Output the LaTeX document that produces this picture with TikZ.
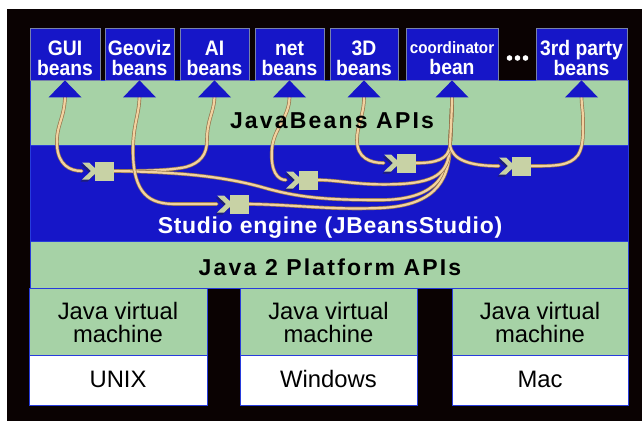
\documentclass[tikz,border=0pt]{standalone}
\usepackage{fontspec}
\setmainfont{Liberation Sans}
\newfontfamily\beanfont[FakeStretch=0.92]{Liberation Sans}
\newfontfamily\headfont[LetterSpace=9.5]{Liberation Sans}
\newfontfamily\studiofont[LetterSpace=3]{Liberation Sans}
\usetikzlibrary{calc}
\definecolor{bgblack}{RGB}{10,2,2}
\definecolor{apigreen}{RGB}{166,210,166}
\definecolor{engblue}{RGB}{22,22,200}
\definecolor{bandedge}{RGB}{40,60,220}
\definecolor{beanedge}{RGB}{120,130,170}
\definecolor{wiretan}{RGB}{242,210,160}
\definecolor{wireshade}{RGB}{150,118,78}
\definecolor{adkhaki}{RGB}{200,210,165}
\definecolor{adshade}{RGB}{30,30,120}
\begin{document}
\begin{tikzpicture}[x=1pt,y=-1pt,
  band/.style={draw=bandedge, line width=0.8pt},
  bean/.style={fill=engblue, draw=beanedge, line width=0.8pt, minimum height=52pt, inner sep=0pt},
  beantext/.style={text=white, font=\beanfont\bfseries\fontsize{21}{20}\selectfont, align=center, anchor=base, inner sep=0pt},
  coordtext/.style={text=white, font=\beanfont\bfseries\fontsize{16.5}{17}\selectfont, anchor=base, inner sep=0pt},
  headtext/.style={font=\headfont\bfseries\fontsize{23}{24}\selectfont, anchor=base, inner sep=0pt},
  studiotext/.style={text=white, font=\studiofont\bfseries\fontsize{23}{24}\selectfont, anchor=base, inner sep=0pt},
  jvmtext/.style={font=\fontsize{23.8}{23}\selectfont, align=center, anchor=base, inner sep=0pt},
  adaptor/.style={minimum width=32pt, minimum height=19pt, inner sep=0pt},
  wire/.style={draw=wiretan, line width=2.2pt, line cap=round,
    preaction={draw=wireshade, line width=3.6pt, line cap=round}},
  dot/.style={circle, fill=white, inner sep=0pt, minimum size=5.6pt}
]
\useasboundingbox (0,0) rectangle (642,421);
\fill[white] (0,0) rectangle (642,421);
\fill[bgblack] (7,9) rectangle (642,421);

% bands
\path[band, fill=apigreen] (30,80) rectangle (628,145);
\path[band, fill=engblue] (30,145) rectangle (628,241);
\path[band, fill=apigreen] (30,241) rectangle (628,288);

% JVM / OS boxes
\foreach \xa/\xb in {29/207, 240/417, 452/628} {
  \path[band, fill=apigreen] (\xa,288) rectangle (\xb,355);
  \path[band, fill=white] (\xa,355) rectangle (\xb,405);
}

% beans
\node[bean, minimum width=70pt] (b1) at (65,54) {};
\node[bean, minimum width=69pt] (b2) at (139.5,54) {};
\node[bean, minimum width=69pt] (b3) at (214.5,54) {};
\node[bean, minimum width=69pt] (b4) at (289.5,54) {};
\node[bean, minimum width=68pt] (b5) at (364,54) {};
\node[bean, minimum width=92pt] (b6) at (452,54) {};
\node[bean, minimum width=91pt] (b7) at (581.5,54) {};

\node[beantext] (l1) at (65,75) {GUI\\beans};
\node[beantext] (l2) at (139.5,75) {Geoviz\\beans};
\node[beantext] (l3) at (214.5,75) {AI\\beans};
\node[beantext] (l4) at (289.5,75) {net\\beans};
\node[beantext] (l5) at (364,75) {3D\\beans};
\node[coordtext] (l6a) at (452,53) {coordinator};
\node[beantext] (l6b) at (452,74) {bean};
\node[beantext] (l7) at (581.5,75) {3rd party\\beans};

\node[dot] (d1) at (509.5,58) {};
\node[dot] (d2) at (517.5,58) {};
\node[dot] (d3) at (525.5,58) {};

% triangle base points
\foreach \i in {1,...,7} {
  \coordinate (t\i) at ($(b\i.south)+(0,17)$);
}

% adaptors
\node[adaptor] (A1) at (98,171) {};
\node[adaptor] (A2) at (233,204) {};
\node[adaptor] (A3) at (302,180) {};
\node[adaptor] (A4) at (400,163) {};
\node[adaptor] (A5) at (515,166) {};

\coordinate (J) at (450,145);

% wires
\path[wire] (t1) .. controls (64,120) and (56,125) .. (57,145) .. controls (58,165) and (70,171) .. (A1.west);
\path[wire] (A1.east) .. controls (150,171) and (172,170) .. (186,167) .. controls (200,163) and (207,155) .. (207,140) .. controls (207,120) and (214,112) .. (t3);
\path[wire] (A1.east) .. controls (170,172) and (220,175) .. (265,188) .. controls (300,198) and (330,200) .. (380,200) .. controls (430,200) and (449,180) .. (J) .. controls (451,125) and (452,110) .. (t6);
\path[wire] (t2) .. controls (139,115) and (133,125) .. (133,150) .. controls (133,195) and (150,204) .. (175,204) -- (A2.west);
\path[wire] (A2.east) .. controls (300,205) and (330,210) .. (380,208) .. controls (430,206) and (450,185) .. (J) .. controls (451,125) and (452,110) .. (t6);
\path[wire] (t4) .. controls (289,118) and (274,128) .. (272,148) .. controls (270,172) and (278,180) .. (A3.west);
\path[wire] (A3.east) .. controls (340,180) and (360,186) .. (400,184) .. controls (440,182) and (449,170) .. (J) .. controls (451,125) and (452,110) .. (t6);
\path[wire] (t5) .. controls (364,115) and (357,125) .. (357,140) .. controls (357,158) and (370,163) .. (A4.west);
\path[wire] (A4.east) .. controls (435,163) and (449,160) .. (J) .. controls (451,125) and (452,110) .. (t6);
\path[wire] (t6) .. controls (452,110) and (451,125) .. (J) .. controls (452,160) and (470,166) .. (A5.west);
\path[wire] (A5.east) .. controls (555,166) and (570,166) .. (578,155) .. controls (584,146) and (583,130) .. (583,120) .. controls (583,110) and (581.5,105) .. (t7);

% adaptor shapes
\foreach \a in {A1,A2,A3,A4,A5} {
  \fill[adshade] ($(\a.center)+(-17.5,-6.5)$) -- ($(\a.center)+(-10.5,-6.5)$) -- ($(\a.center)+(-1.5,2)$) -- ($(\a.center)+(-10.5,10.5)$) -- ($(\a.center)+(-17.5,10.5)$) -- ($(\a.center)+(-8.5,2)$) -- cycle;
  \fill[adkhaki] ($(\a.center)+(-16,-8.5)$) -- ($(\a.center)+(-9,-8.5)$) -- ($(\a.center)+(0,0)$) -- ($(\a.center)+(-9,8.5)$) -- ($(\a.center)+(-16,8.5)$) -- ($(\a.center)+(-7,0)$) -- cycle;
  \fill[adkhaki] ($(\a.center)+(-3,-9.5)$) rectangle ($(\a.center)+(16,9.5)$);
}

% triangles
\foreach \i in {1,...,7} {
  \fill[engblue] (b\i.south) -- ($(b\i.south)+(16.5,17)$) -- ($(b\i.south)+(-16.5,17)$) -- cycle;
}

% headings
\node[headtext] (jb) at (332,128) {JavaBeans APIs};
\node[studiotext] (se) at (330,233) {Studio engine (JBeansStudio)};
\node[headtext] (j2) at (330,275) {Java 2 Platform APIs};

% JVM texts
\node[jvmtext] (v1) at (118,342) {Java virtual\\machine};
\node[jvmtext] (v2) at (328.5,342) {Java virtual\\machine};
\node[jvmtext] (v3) at (540,342) {Java virtual\\machine};
\node[jvmtext] (o1) at (118,387) {UNIX};
\node[jvmtext] (o2) at (328.5,387) {Windows};
\node[jvmtext] (o3) at (540,387) {Mac};
\end{tikzpicture}
\end{document}
